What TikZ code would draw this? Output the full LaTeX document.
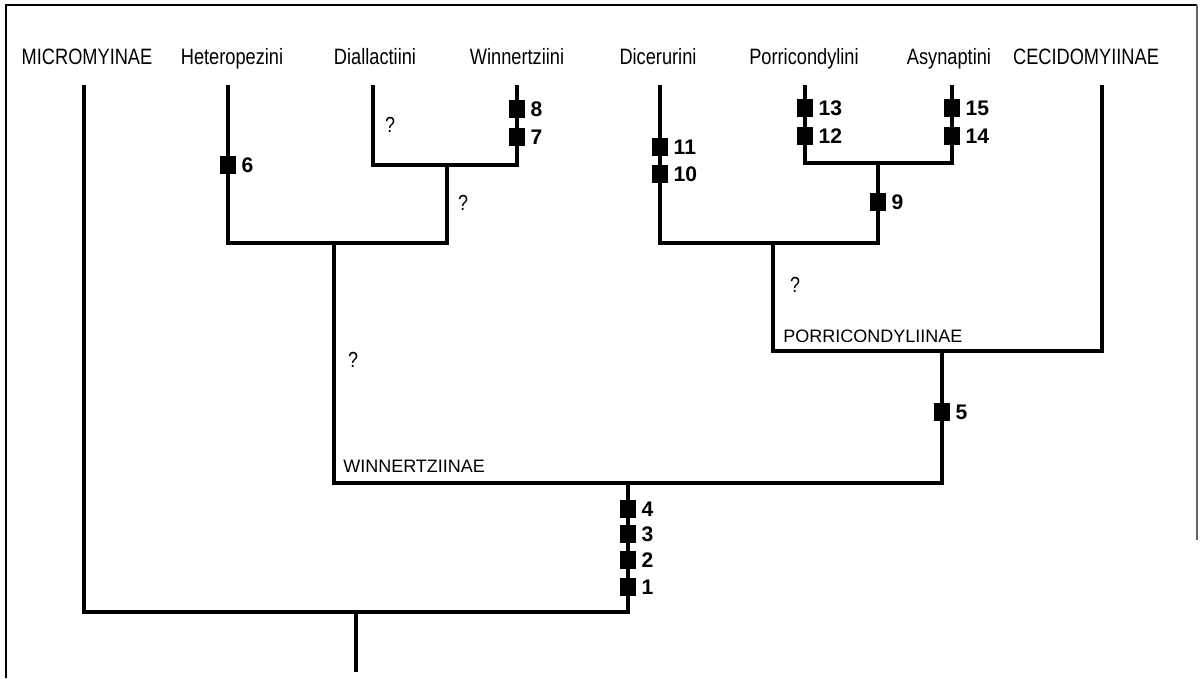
\documentclass[tikz,border=0pt]{standalone}
\usepackage{fontspec}
\setmainfont{Liberation Sans}
\newfontfamily\narrowsans{Liberation Sans}[FakeStretch=0.82]
\usetikzlibrary{positioning}

\begin{document}
\begin{tikzpicture}[x=0.025cm,y=-0.025cm]
\tikzset{
  branch/.style={line width=2.4pt,line cap=rect},
  taxon/.style={anchor=base,inner sep=0pt,font=\narrowsans\fontsize{15.8}{18}\selectfont},
  grouplabel/.style={anchor=base west,inner sep=0pt,font=\fontsize{12.8}{14}\selectfont},
  charbox/.style={fill=black,inner sep=0pt,minimum width=12pt,minimum height=13.2pt,
    label distance=1.5pt,label={[font=\bfseries\fontsize{15}{17}\selectfont]right:#1}},
  query/.style={inner sep=0pt,font=\narrowsans\fontsize{15.5}{17}\selectfont}
}
\useasboundingbox (0,0) rectangle (1202,678);
% frame
\draw[line width=1.4pt] (6,678) -- (6,5) -- (1197,5);
\draw[line width=0.8pt,black!60] (1197,5) -- (1197,540);

% taxa
\node[taxon] (n_micro) at (87,64) {MICROMYINAE};
\node[taxon] (n_hete) at (232,64) {Heteropezini};
\node[taxon] (n_dial) at (375,64) {Diallactiini};
\node[taxon] (n_winn) at (517,64) {Winnertziini};
\node[taxon] (n_dice) at (658,64) {Dicerurini};
\node[taxon] (n_porr) at (804,64) {Porricondylini};
\node[taxon] (n_asyn) at (949,64) {Asynaptini};
\node[taxon] (n_ceci) at (1086,64) {CECIDOMYIINAE};

% branch tips
\coordinate (t_micro) at (84,87);
\coordinate (t_hete) at (228,87);
\coordinate (t_dial) at (373,87);
\coordinate (t_winn) at (517,87);
\coordinate (t_dice) at (660,87);
\coordinate (t_porr) at (805,87);
\coordinate (t_asyn) at (952,87);
\coordinate (t_ceci) at (1102,87);

% junctions (on the bar of each split)
\coordinate (k_dw) at (447,165);
\coordinate (k_hdw) at (334,243);
\coordinate (k_pa) at (878,163);
\coordinate (k_dpa) at (773,243);
\coordinate (k_porr) at (942,351);
\coordinate (k_winn) at (628,483);
\coordinate (k_root) at (356,612);
\coordinate (r_base) at (356,670);

% tree
\draw[branch] (t_dial) -- (t_dial |- k_dw) -- (t_winn |- k_dw) -- (t_winn);
\draw[branch] (k_dw) -- (k_dw |- k_hdw);
\draw[branch] (t_hete) -- (t_hete |- k_hdw) -- (k_dw |- k_hdw);
\draw[branch] (t_porr) -- (t_porr |- k_pa) -- (t_asyn |- k_pa) -- (t_asyn);
\draw[branch] (k_pa) -- (k_pa |- k_dpa);
\draw[branch] (t_dice) -- (t_dice |- k_dpa) -- (k_pa |- k_dpa);
\draw[branch] (k_dpa) -- (k_dpa |- k_porr) -- (t_ceci |- k_porr) -- (t_ceci);
\draw[branch] (k_hdw) -- (k_hdw |- k_winn) -- (k_porr |- k_winn) -- (k_porr);
\draw[branch] (t_micro) -- (t_micro |- k_root) -- (k_winn |- k_root) -- (k_winn);
\draw[branch] (k_root) -- (r_base);

% clade names
\node[grouplabel] (g_porr) at (783,342) {PORRICONDYLIINAE};
\node[grouplabel] (g_winn) at (343,472) {WINNERTZIINAE};

% uncertain branches
\node[query] (q_dial) at (390,125) {?};
\node[query] (q_dw) at (463,203) {?};
\node[query] (q_hdw) at (353,360) {?};
\node[query] (q_dpa) at (795,285) {?};

% characters
\node[charbox=1] (c_1) at (628,587) {};
\node[charbox=2] (c_2) at (628,560) {};
\node[charbox=3] (c_3) at (628,534) {};
\node[charbox=4] (c_4) at (628,509) {};
\node[charbox=5] (c_5) at (942,412) {};
\node[charbox=6] (c_6) at (228,165) {};
\node[charbox=7] (c_7) at (517,137) {};
\node[charbox=8] (c_8) at (517,109) {};
\node[charbox=9] (c_9) at (878,202) {};
\node[charbox=10] (c_10) at (660,174) {};
\node[charbox=11] (c_11) at (660,147) {};
\node[charbox=12] (c_12) at (805,136) {};
\node[charbox=13] (c_13) at (805,108) {};
\node[charbox=14] (c_14) at (952,136) {};
\node[charbox=15] (c_15) at (952,108) {};
\end{tikzpicture}
\end{document}
